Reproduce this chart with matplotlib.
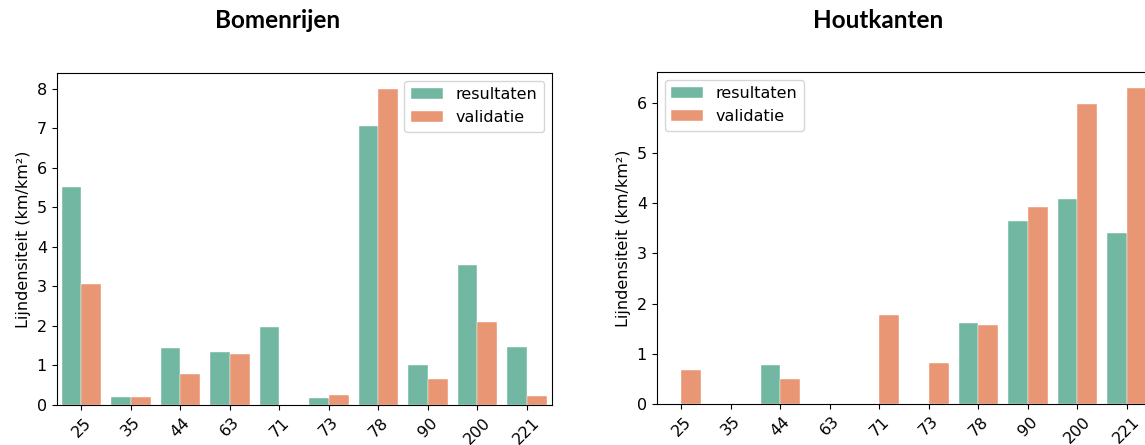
"""Line density per tile: model results vs validation, for tree rows and hedgerows."""

import matplotlib
matplotlib.use("Agg")
import matplotlib.pyplot as plt
import numpy as np

tiles = ["25", "35", "44", "63", "71", "73", "78", "90", "200", "221"]

bomen_resultaten = [5.52, 0.20, 1.45, 1.33, 1.97, 0.17, 7.06, 1.02, 3.55, 1.48]
bomen_validatie = [3.05, 0.20, 0.78, 1.28, 0.0, 0.25, 8.00, 0.67, 2.10, 0.22]

hout_resultaten = [0.0, 0.0, 0.78, 0.0, 0.0, 0.0, 1.62, 3.65, 4.08, 3.40]
hout_validatie = [0.68, 0.0, 0.50, 0.0, 1.78, 0.82, 1.58, 3.93, 5.98, 6.30]

GREEN = "#72b7a1"   # Set2 green, desaturated like seaborn
ORANGE = "#e99675"  # Set2 orange, desaturated

plt.rcParams["font.size"] = 11.5


def bars(ax, res, val, legend_loc):
    x = np.arange(len(tiles))
    w = 0.4
    ax.bar(x - w / 2, res, w, color=GREEN, edgecolor="white", linewidth=0.3, label="resultaten")
    ax.bar(x + w / 2, val, w, color=ORANGE, edgecolor="white", linewidth=0.3, label="validatie")
    ax.set_xticks(x)
    ax.set_xticklabels(tiles, rotation=45)
    ax.set_xlim(-0.5, len(tiles) - 0.5)
    top = max(max(res), max(val))
    ax.set_ylim(0, top * 1.05)
    ax.set_ylabel("Lijndensiteit (km/km²)")
    ax.legend(loc=legend_loc)


fig = plt.figure(figsize=(11.45, 4.45), dpi=100)
W, H = 1145, 445

ax1 = fig.add_axes([56.7 / W, 40 / H, 495 / W, 332 / H])
bars(ax1, bomen_resultaten, bomen_validatie, "upper right")

# the second panel runs past the right edge in the original screenshot
ax2 = fig.add_axes([656.7 / W, 41 / H, 495 / W, 332 / H])
bars(ax2, hout_resultaten, hout_validatie, "upper left")

fig.text(278 / W, 1 - 21 / H, "Bomenrijen", ha="center", va="center",
         fontsize=17.5, fontweight="bold", family="Lato")
fig.text(878 / W, 1 - 21 / H, "Houtkanten", ha="center", va="center",
         fontsize=17.5, fontweight="bold", family="Lato")

fig.savefig("out.png", dpi=100)
